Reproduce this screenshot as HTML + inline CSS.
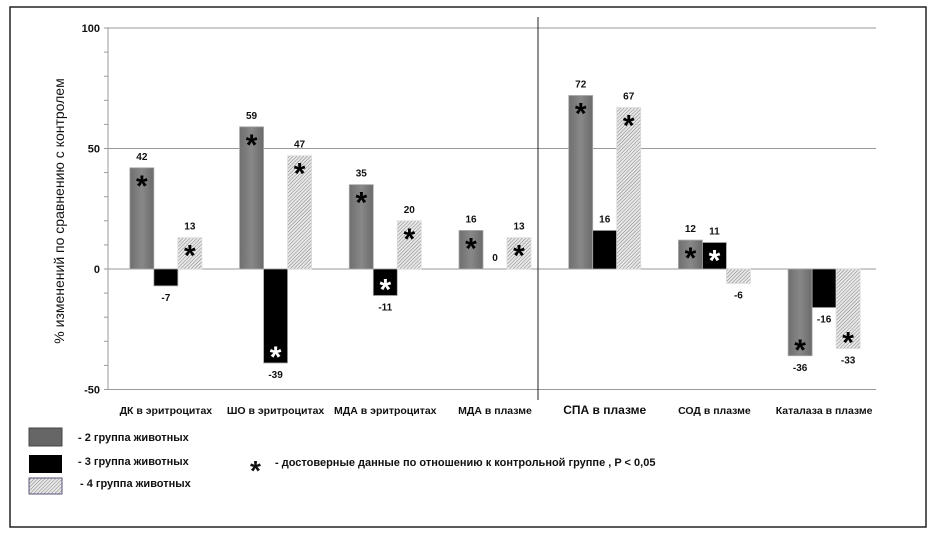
<!DOCTYPE html>
<html><head><meta charset="utf-8"><style>
body{margin:0;background:#fff;}
svg text{font-family:"Liberation Sans","DejaVu Sans",sans-serif;}
</style></head><body>
<svg width="936" height="537" xmlns="http://www.w3.org/2000/svg">
<defs>
<pattern id="hatch" width="2.5" height="2.5" patternUnits="userSpaceOnUse" patternTransform="rotate(45)">
<rect width="2.5" height="2.5" fill="#e8e8e8"/><line x1="0" y1="0" x2="0" y2="2.5" stroke="#808080" stroke-width="1"/>
</pattern>
<linearGradient id="gg" x1="0" x2="1"><stop offset="0" stop-color="#6f6f6f"/><stop offset="0.5" stop-color="#888"/><stop offset="1" stop-color="#6a6a6a"/></linearGradient>
</defs>
<rect x="10" y="7" width="916" height="520" fill="#fff" stroke="#222" stroke-width="1.5"/>
<g id="grid"></g>
<g id="bars"></g>
<g id="labels"></g>
<text transform="translate(64,211) rotate(-90)" text-anchor="middle" font-size="14" fill="#111">% изменений по сравнению  с контролем</text>
<line x1="538" y1="17" x2="538" y2="400" stroke="#222" stroke-width="1"/>
<g font-size="11" font-weight="bold" fill="#111">
<rect x="29" y="428" width="33" height="18" fill="#666" stroke="#444"/>
<text x="78" y="441">-   2 группа животных</text>
<rect x="29" y="455" width="33" height="18" fill="#000"/>
<text x="78" y="465">-   3 группа животных</text>
<rect x="29" y="478" width="33" height="16" fill="url(#hatch)" stroke="#557"/>
<text x="80" y="487">-   4 группа животных</text>
<text x="250" y="480" font-size="28">*</text>
<text x="275" y="466">-   достоверные данные по отношению к контрольной  группе , P &lt; 0,05</text>
</g>
</svg>
<script>
const categories=["ДК в эритроцитах","ШО в эритроцитах","МДА в эритроцитах","МДА в плазме","СПА в плазме","СОД в плазме","Каталаза в плазме"];
const group2=[42,59,35,16,72,12,-36];
const group3=[-7,-39,-11,0,16,11,-16];
const group4=[13,47,20,13,67,-6,-33];
const sig2=[1,1,1,1,1,1,1];
const sig3=[0,1,1,0,0,1,0];
const sig4=[1,1,1,1,1,0,1];
const yTicks=[100,50,0,-50];
const NS="http://www.w3.org/2000/svg";
const x0=108,x1=876,y0px=269,pxPer=120.5/50;
const y=v=>y0px-v*pxPer;
const gw=(x1-x0)/categories.length,bw=24;
function mk(tag,attrs,parent){const e=document.createElementNS(NS,tag);for(const k in attrs)e.setAttribute(k,attrs[k]);parent.appendChild(e);return e;}
const grid=document.getElementById('grid'),bars=document.getElementById('bars'),labs=document.getElementById('labels');
yTicks.forEach(t=>{
 const l=mk('line',{x1:x0,x2:x1,y1:y(t),y2:y(t),stroke:'#999','stroke-width':1},grid);
 
 
 const tx=mk('text',{x:x0-8,y:y(t)+4,'text-anchor':'end','font-size':11,'font-weight':'bold',fill:'#111'},grid);
 tx.textContent=t;
 
 
});
const ax=mk('line',{x1:x0,x2:x0,y1:y(100),y2:y(-50),stroke:'#999'},grid);


for(let t=-50;t<=100;t+=10){mk('line',{x1:x0-4,x2:x0,y1:y(t),y2:y(t),stroke:'#999'},grid);}
const series=[[group2,'url(#gg)',sig2,'#000','group2'],[group3,'#000',sig3,'#fff','group3'],[group4,'url(#hatch)',sig4,'#000','group4']];
categories.forEach((c,i)=>{
 const cx=x0+gw*(i+0.5)+3;
 series.forEach((s,j)=>{
  const v=s[0][i];const bx=cx-1.5*bw+j*bw;
  const top=Math.min(y(v),y(0)),h=Math.abs(y(v)-y(0));
  if(h>0){
   const r=mk('rect',{x:bx,y:top,width:bw,height:h,fill:s[1],stroke:j==2?'#ddd':'#aaa','stroke-width':0.8},bars);
   
   
  }
  const lt=mk('text',{x:bx+bw/2,y:v>=0?y(v)-8:y(v)+15,'text-anchor':'middle','font-size':10,'font-weight':'bold',fill:'#111'},labs);
  lt.textContent=v;
  
  
  if(s[2][i]){
   const ay=v>=0?y(v)+28:y(v)+4;
   const a=mk('text',{x:bx+bw/2,y:ay,'text-anchor':'middle','font-size':30,'font-weight':'bold',fill:s[3]},labs);
   a.textContent='*';
   
   
  }
 });
 const cl=mk('text',{x:cx,y:414,'text-anchor':'middle','font-size':i==4?12:10.5,'font-weight':'bold',fill:'#111'},labs);
 cl.textContent=c;
 
 
});
</script>
</body></html>
